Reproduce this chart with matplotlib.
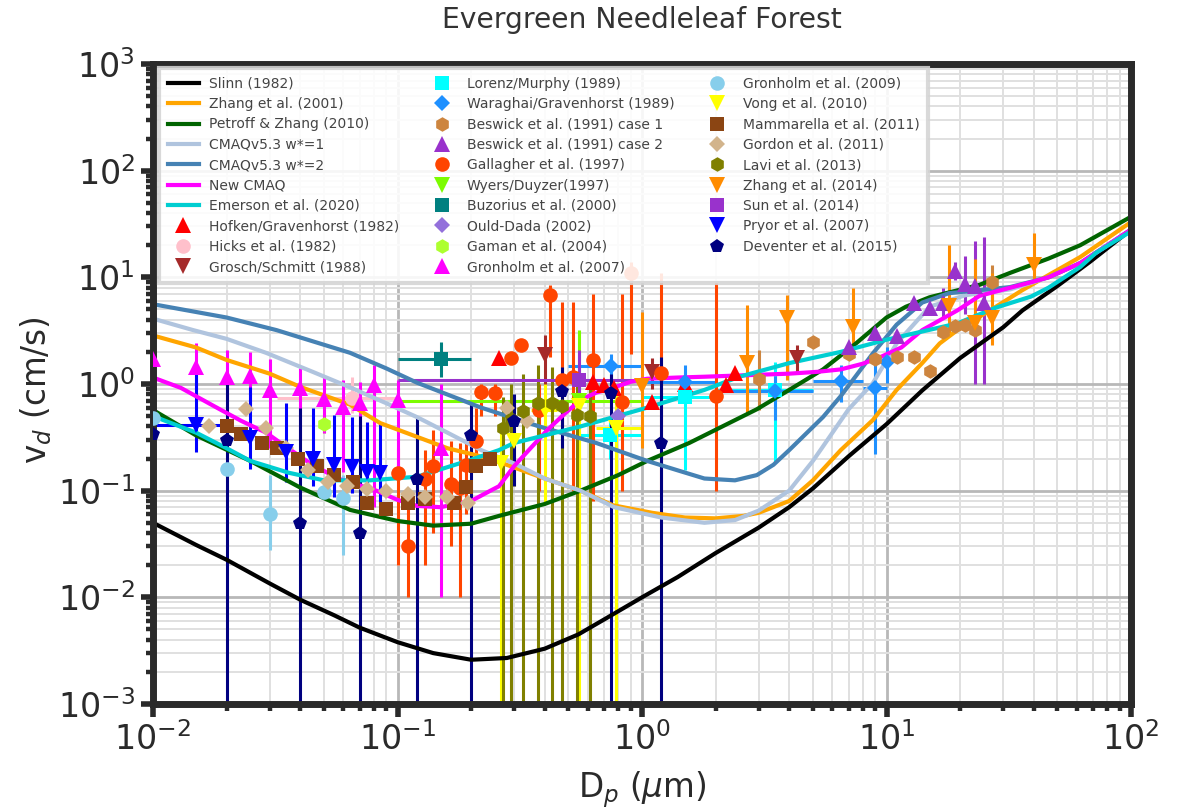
import numpy as np
import matplotlib
matplotlib.use("Agg")
import matplotlib.pyplot as plt
from matplotlib.ticker import NullFormatter

# ---------- model curves ----------
slinn_x = [.01,.015,.02,.03,.04,.055,.07,.1,.14,.2,.28,.4,.55,.7,1,1.4,2,3,4,5,7,10,14,20,30,36,50,68,100]
slinn_y = [.05,.031,.0225,.0135,.0095,.0068,.0052,.0038,.003,.0026,.0027,.0033,.0045,.0062,.01,.0155,.026,.045,.07,.105,.21,.42,.87,1.75,3.4,4.9,8.3,14,28]
zhang01_x = [.01,.015,.02,.03,.04,.064,.085,.12,.16,.21,.27,.4,.56,.76,1.1,1.5,2,2.6,3,4,5,6.5,8.8,11,14,16.5,19.5,28,36,46,62,100]
zhang01_y = [2.85,2.2,1.68,1.25,.94,.64,.43,.32,.25,.215,.18,.13,.1,.073,.062,.056,.055,.058,.062,.08,.125,.24,.46,.88,1.57,2.4,3.2,5.3,7.6,10.5,15.5,33]
petroff_x = [.01,.015,.025,.04,.064,.1,.14,.2,.26,.4,.56,.8,1.05,1.56,2.95,4,5.5,7.5,10,12,15,24,32,46,62,85,100]
petroff_y = [.57,.33,.19,.107,.066,.052,.047,.049,.058,.075,.1,.14,.19,.28,.58,.88,1.37,2.4,4.2,5.3,6.5,8.5,11,15,20,30,37]
cmaq1_x = [.01,.0146,.02,.029,.045,.064,.09,.12,.16,.22,.3,.4,.56,.77,1.2,1.8,2.4,3,4,5,5.5,7,8.8,11,15,21,32,46,62,100]
cmaq1_y = [4.1,3.2,2.65,1.96,1.3,.93,.66,.49,.35,.24,.18,.13,.1,.07,.056,.05,.053,.065,.1,.19,.26,.58,1.02,2.4,5.3,6.8,7.7,10,13.6,28]
cmaq2_x = [.01,.02,.032,.064,.09,.12,.22,.38,.65,1.05,1.4,1.8,2.4,2.95,3.45,4,5.5,6.5,8.8,11,14,18,32,46,62,100]
cmaq2_y = [5.6,4.2,3.2,1.96,1.4,1.03,.6,.4,.28,.19,.155,.13,.125,.14,.175,.24,.49,.77,1.94,3.6,5.8,7.1,8.1,10,13.6,28]
newcmaq_x = [.01,.013,.018,.023,.029,.034,.044,.057,.082,.1,.12,.15,.2,.24,.26,.3,.35,.41,.48,.56,.65,.77,.9,1.05,1.4,1.8,4,5.2,6.5,8,9.5,11.5,14,19.5,24,39,46,62,80,100]
newcmaq_y = [1.15,.92,.61,.45,.35,.27,.18,.13,.1,.082,.072,.07,.08,.1,.11,.17,.25,.37,.52,.71,.83,.93,1.05,1.12,1.15,1.17,1.25,1.3,1.37,1.55,1.8,2.2,3.2,4.9,6.7,9,10,13.6,20,28]
emerson_x = [.01,.015,.02,.025,.036,.05,.077,.12,.2,.26,.3,.56,1.05,1.8,2.5,4,6.5,10,19.5,28,39,46,62,72,100]
emerson_y = [.5,.35,.25,.19,.147,.125,.125,.135,.195,.24,.28,.4,.6,.88,1.17,1.57,2,2.6,3.7,5.2,6.6,8,12.5,17,27]

# ---------- measurements ----------
hof_x = [.26,.63,.7,.77,1.1,1.5,2.2,2.4]
hof_y = [1.76,1.05,.97,.92,.68,1.0,.98,1.26]
hicks_x = [.065]; hicks_y = [.74]
hicks_xlo = [.032]; hicks_xhi = [.1]; hicks_lo = [.53]; hicks_hi = [1.16]
gro_x = [.4,1.1,4.3]; gro_y = [1.87,1.3,1.75]
gro_lo = [.95,.9,1.3]; gro_hi = [2.9,1.75,2.3]
lor_x = [.74,1.5,3.5]; lor_y = [.33,.76,.87]
lor_lo = [.2,.155,.18]; lor_hi = [.45,1.3,1.6]
lor_xlo = [.54,1.0,2.0]; lor_xhi = [1.0,2.0,5.0]
war_x = [.75,1.5,3.5,6.5,9,10]; war_y = [1.47,1.05,.86,1.07,.92,1.6]
war_lo = [1.1,.8,.46,.68,.22,1.02]; war_hi = [1.9,1.5,1.2,1.5,1.6,2.2]
war_xlo = [.5,1.0,2.0,5.0,8.0,9.5]; war_xhi = [1.0,2.0,5.0,8.0,10,10.5]
bes1_x = [3,5,7,9,11,13,15,17,19,21,23,27]
bes1_y = [1.12,2.5,1.9,1.7,1.8,1.8,1.33,3.1,3.5,3.6,3.2,9]
bes1_lo = [.57,2.5,1.9,1.7,1.8,1.8,1.33,3.1,3.5,3.6,3.2,6]
bes1_hi = [2.1,2.5,1.9,1.7,1.8,1.8,1.33,3.1,3.5,3.6,3.2,13]
bes2_x = [7,9,11,13,15,17,19,21,23,25]
bes2_y = [2.2,3,2.8,5.7,5.2,5.8,11.5,8.6,8.3,5.8]
bes2_lo = [2.2,3,2.8,5.7,5.2,4.2,9.5,4.5,1,1]
bes2_hi = [2.2,3,2.8,5.7,5.2,8,14,16,22,24]
gal_x = [.1,.11,.13,.14,.165,.18,.19,.21,.22,.25,.29,.32,.38,.42,.47,.52,.63,.83,.9,1.2,2]
gal_y = [.148,.03,.13,.17,.115,.105,.175,.29,.84,.83,1.76,2.3,.57,6.9,1.1,1.16,1.68,.68,11,1.27,.78]
gal_lo = [.02,.01,.02,.04,.03,.01,.06,.2,.5,.5,1.76,2.3,.1,1.8,.4,.1,.08,.1,1.9,.1,.1]
gal_hi = [.25,.1,.24,.37,.29,.28,.3,.6,1.0,1.0,1.76,2.3,1.0,8.5,5.9,5.9,7,7,14,11,8.9]
wy_x = [.55]; wy_y = [.7]; wy_lo = [.08]; wy_hi = [3.2]; wy_xlo = [.1]; wy_xhi = [1.0]
buz_x = [.15]; buz_y = [1.7]; buz_lo = [1.16]; buz_hi = [2.5]; buz_xlo = [.1]; buz_xhi = [.2]
ould_x = [.8]; ould_y = [.5]
gam_x = [.05]; gam_y = [.42]; gam_lo = [.35]; gam_hi = [.5]
g07_x = [.01,.015,.02,.025,.03,.04,.05,.06,.07,.08,.1,.15]
g07_y = [1.7,1.44,1.16,1.2,.88,.92,.72,.61,.66,.98,.71,.25]
g07_lo = [1.1,.9,.6,.6,.25,.3,.35,.15,.16,.07,.14,.01]
g07_hi = [2.4,2.4,2.1,2.0,1.7,1.4,1.2,1.1,1.05,1.5,1.1,1.0]
g09_x = [.01,.02,.03,.05,.06]; g09_y = [.48,.16,.06,.097,.085]
g09_lo = [.48,.16,.028,.097,.025]; g09_hi = [.48,.16,.14,.097,.14]
vong_x = [.265,.3,.4,.55,.78]; vong_y = [.18,.29,.57,.62,.39]
vong_lo = [.001,.11,.075,.001,.001]; vong_hi = [.4,.55,1.0,1.1,.9]
vong_xlo = [.265,.3,.35,.55,.65]; vong_xhi = [.265,.3,.45,.55,1.0]
mam_x = [.02,.023,.028,.032,.039,.047,.055,.066,.075,.09,.11,.13,.17,.19,.21,.24]
mam_y = [.4,.34,.28,.25,.2,.17,.14,.12,.077,.068,.077,.084,.077,.108,.17,.2]
gor_x = [.017,.024,.029,.035,.043,.052,.062,.075,.09,.11,.13,.16,.195,.28,.34]
gor_y = [.4,.58,.39,.25,.155,.12,.11,.103,.1,.094,.088,.088,.077,.6,.45]
lavi_x = [.27,.29,.325,.375,.43,.47,.54,.61]
lavi_y = [.39,.47,.56,.67,.66,.62,.51,.5]
lavi_lo = [.001]*8
lavi_hi = [.75,1.0,1.25,1.5,1.45,1.0,.95,.94]
z14_x = [1,2.7,3.9,7.3,18,23,27,40]
z14_y = [.95,1.57,4.2,3.4,5.4,3.7,4.2,13]
z14_lo = [.25,.54,1.1,2,3,2.8,2.3,9]
z14_hi = [4.7,5.5,6.8,8,20,15,11,26]
sun_x = [.55]; sun_y = [1.09]; sun_lo = [.5]; sun_hi = [2.1]; sun_xlo = [.1]; sun_xhi = [1.0]
pry_x = [.015,.025,.035,.045,.055,.065,.075,.085]
pry_y = [.41,.31,.23,.2,.175,.165,.15,.145]
pry_lo = [.23,.16,.12,.11,.088,.096,.1,.075]
pry_hi = [1.27,.93,.67,.6,.51,.49,.44,.43]
pry_xlo = [.01,.025,.035,.045,.055,.065,.075,.085]
pry_xhi = [.02,.025,.035,.045,.055,.065,.075,.085]
dev_x = [.01,.02,.04,.07,.12,.2,.3,.47,.75,1.2]
dev_y = [.34,.3,.05,.04,.13,.33,.45,.86,.83,.28]
dev_lo = [.2,.001,.001,.001,.001,.001,.11,.25,.001,.001]
dev_hi = [.5,1.0,.6,.5,.5,.66,.8,1.45,1.25,1.8]

x_decades = [.01,.1,1,10,100]
y_decades = [.001,.01,.1,1,10,100,1000]
minor_subs = [2,3,4,5,6,7,8,9]

curves = [
    (slinn_x, slinn_y, "black", "Slinn (1982)"),
    (zhang01_x, zhang01_y, "orange", "Zhang et al. (2001)"),
    (petroff_x, petroff_y, "darkgreen", "Petroff & Zhang (2010)"),
    (cmaq1_x, cmaq1_y, "lightsteelblue", "CMAQv5.3 w*=1"),
    (cmaq2_x, cmaq2_y, "steelblue", "CMAQv5.3 w*=2"),
    (newcmaq_x, newcmaq_y, "magenta", "New CMAQ"),
    (emerson_x, emerson_y, "darkturquoise", "Emerson et al. (2020)"),
]
# x, y, ylo, yhi, xlo, xhi, marker, colour, label
series = [
    (hof_x, hof_y, None, None, None, None, "^", "red", "Hofken/Gravenhorst (1982)"),
    (hicks_x, hicks_y, hicks_lo, hicks_hi, hicks_xlo, hicks_xhi, "o", "pink", "Hicks et al. (1982)"),
    (gro_x, gro_y, gro_lo, gro_hi, None, None, "v", "brown", "Grosch/Schmitt (1988)"),
    (lor_x, lor_y, lor_lo, lor_hi, lor_xlo, lor_xhi, "s", "cyan", "Lorenz/Murphy (1989)"),
    (war_x, war_y, war_lo, war_hi, war_xlo, war_xhi, "D", "dodgerblue", "Waraghai/Gravenhorst (1989)"),
    (bes1_x, bes1_y, bes1_lo, bes1_hi, None, None, "h", "peru", "Beswick et al. (1991) case 1"),
    (bes2_x, bes2_y, bes2_lo, bes2_hi, None, None, "^", "darkorchid", "Beswick et al. (1991) case 2"),
    (gal_x, gal_y, gal_lo, gal_hi, None, None, "o", "orangered", "Gallagher et al. (1997)"),
    (wy_x, wy_y, wy_lo, wy_hi, wy_xlo, wy_xhi, "v", "lawngreen", "Wyers/Duyzer(1997)"),
    (buz_x, buz_y, buz_lo, buz_hi, buz_xlo, buz_xhi, "s", "teal", "Buzorius et al. (2000)"),
    (ould_x, ould_y, None, None, None, None, "D", "mediumpurple", "Ould-Dada (2002)"),
    (gam_x, gam_y, gam_lo, gam_hi, None, None, "h", "greenyellow", "Gaman et al. (2004)"),
    (g07_x, g07_y, g07_lo, g07_hi, None, None, "^", "magenta", "Gronholm et al. (2007)"),
    (g09_x, g09_y, g09_lo, g09_hi, None, None, "o", "skyblue", "Gronholm et al. (2009)"),
    (vong_x, vong_y, vong_lo, vong_hi, vong_xlo, vong_xhi, "v", "yellow", "Vong et al. (2010)"),
    (mam_x, mam_y, None, None, None, None, "s", "saddlebrown", "Mammarella et al. (2011)"),
    (gor_x, gor_y, None, None, None, None, "D", "tan", "Gordon et al. (2011)"),
    (lavi_x, lavi_y, lavi_lo, lavi_hi, None, None, "h", "olive", "Lavi et al. (2013)"),
    (z14_x, z14_y, z14_lo, z14_hi, None, None, "v", "darkorange", "Zhang et al. (2014)"),
    (sun_x, sun_y, sun_lo, sun_hi, sun_xlo, sun_xhi, "s", "darkorchid", "Sun et al. (2014)"),
    (pry_x, pry_y, pry_lo, pry_hi, pry_xlo, pry_xhi, "v", "blue", "Pryor et al. (2007)"),
    (dev_x, dev_y, dev_lo, dev_hi, None, None, "p", "navy", "Deventer et al. (2015)"),
]

W, H = 1178, 811
fig = plt.figure(figsize=(W/100, H/100), dpi=100)
ax = fig.add_axes([153/W, 1-704/H, 978/W, 640/H])
ax.set_xscale("log"); ax.set_yscale("log")

for xv, yv, col, lab in curves:
    ax.plot(xv, yv, color=col, lw=3, label=lab, zorder=2, solid_joinstyle="round")

for i, (xv, yv, lo, hi, xlo, xhi, mk, col, lab) in enumerate(series):
    xa, ya = np.array(xv, float), np.array(yv, float)
    yerr = None if lo is None else [ya-np.array(lo), np.array(hi)-ya]
    xerr = None if xlo is None else [xa-np.array(xlo), np.array(xhi)-xa]
    if yerr is not None or xerr is not None:
        ax.errorbar(xa, ya, yerr=yerr, xerr=xerr, fmt="none", ecolor=col, elinewidth=2.2, zorder=1.5+i*0.01)
    ms = 12 if mk in "^v" else (8.5 if mk == "D" else 10.5)
    ax.plot(xa, ya, ls="none", marker=mk, color=col, ms=ms, mew=0, label=lab, zorder=3+i*0.01)

ax.set_xticks(x_decades)
ax.set_yticks(y_decades)
minor_x = [d*s for d in x_decades[:-1] for s in minor_subs]
minor_y = [d*s for d in y_decades[:-1] for s in minor_subs]
ax.set_xticks(minor_x, minor=True)
ax.set_yticks(minor_y, minor=True)
ax.xaxis.set_minor_formatter(NullFormatter())
ax.yaxis.set_minor_formatter(NullFormatter())
ax.set_xlim(.01, 100); ax.set_ylim(.001, 1000)
ax.grid(True, which="major", color="#b8b8b8", lw=2.0)
ax.grid(True, which="minor", color="#e0e0e0", lw=1.4)
ax.set_axisbelow(True)
ax.tick_params(which="major", labelsize=24, length=9, width=4, color="#2a2a2a", labelcolor="#2a2a2a", pad=4)
ax.tick_params(which="minor", length=5, width=3.2, color="#2a2a2a")
for s in ax.spines.values():
    s.set_linewidth(5); s.set_color("#2a2a2a")

ax.set_xlabel(r"D$_p$ ($\mu$m)", fontsize=23.5, color="#2a2a2a", labelpad=9)
ax.set_ylabel(r"v$_d$ (cm/s)", fontsize=23.5, color="#2a2a2a", labelpad=3, y=0.49)
fig.text(642/W, 1-20/H, "Evergreen Needleleaf Forest", fontsize=20.3, color="#333333", ha="center", va="center")

leg = ax.legend(ncol=3, loc="upper left", bbox_to_anchor=(6/978, 1-4/640), borderaxespad=0,
                fontsize=10, framealpha=0.88, fancybox=False, labelspacing=0.46, columnspacing=1.95,
                handlelength=2.25, handletextpad=0.7, borderpad=0.62, labelcolor="#444444")
leg.get_frame().set_edgecolor("#d4d4d4"); leg.get_frame().set_linewidth(3)
leg.set_zorder(10)
fig.savefig("out.png", dpi=100)
